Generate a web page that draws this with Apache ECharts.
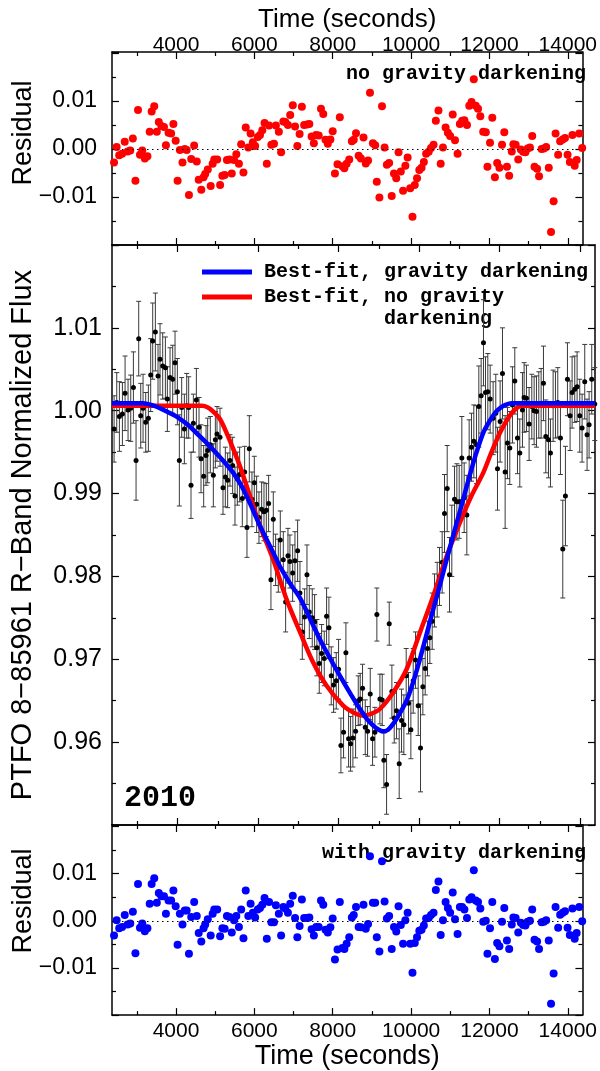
<!DOCTYPE html>
<html><head><meta charset="utf-8">
<script src="https://cdn.jsdelivr.net/npm/echarts@6/dist/echarts.min.js"></script>
<style>html,body{margin:0;padding:0;background:#fff}#c{width:600px;height:1071px}</style>
</head><body><div id="c"></div>
<script>
// ---- Data ----
const time = [
2419,2485,2551,2626,2692,2766,2833,2899,2965,3031,
3081,3139,3205,3271,3329,3379,3445,3511,3561,3627,
3694,3743,3810,3876,3934,3992,4041,4099,4166,4224,
4273,4331,4389,4464,4530,4580,4646,4704,4745,4811,
4886,4936,4977,5052,5126,5184,5242,5300,5366,5424,
5482,5540,5606,5664,5722,5780,5846,5904,5962,6020,
6087,6145,6203,6260,6318,6376,6434,6501,6550,6625,
6683,6741,6790,6857,6915,6981,7039,7097,7155,7213,
7271,7345,7403,7461,7519,7577,7643,7701,7759,7817,
7875,7941,7999,8057,8123,8181,8248,8297,8355,8422,
8488,8537,8595,8662,8720,8786,8844,8902,8951,9026,
9084,9125,9192,9258,9324,9382,9440,9506,9564,9622,
9680,9738,9796,9854,9912,9978,10036,10094,10152,10210,
10268,10326,10384,10450,10508,10574,10632,10699,10756,10814,
10881,10939,10997,11063,11121,11187,11245,11303,11361,11427,
11485,11543,11601,11651,11709,11767,11841,11907,11949,12015,
12073,12139,12197,12255,12321,12379,12446,12504,12570,12611,
12669,12735,12802,12860,12918,12976,13034,13092,13150,13216,
13266,13332,13390,13448,13514,13572,13638,13688,13754,13804,
13870,13928,13994,14052,14118,14176,14226,14292,14367];

const flux = [
0.9978,1.0010,0.9993,0.9996,1.0021,1.0001,1.0003,1.0028,0.9940,1.0087,
0.9994,1.0003,0.9986,0.9991,1.0043,1.0084,1.0095,1.0042,1.0062,1.0054,
1.0052,1.0014,1.0040,1.0038,1.0058,1.0023,0.9940,1.0004,0.9978,1.0006,
1.0004,0.9910,0.9985,1.0013,0.9980,0.9942,0.9921,0.9946,0.9952,0.9959,
0.9922,0.9965,0.9972,0.9968,0.9907,0.9920,0.9916,0.9940,0.9934,0.9897,
0.9918,0.9923,0.9894,0.9926,0.9859,0.9954,0.9893,0.9913,0.9887,0.9871,
0.9881,0.9878,0.9880,0.9888,0.9796,0.9869,0.9820,0.9813,0.9844,0.9820,
0.9769,0.9825,0.9818,0.9804,0.9819,0.9831,0.9780,0.9733,0.9751,0.9802,
0.9757,0.9750,0.9745,0.9714,0.9695,0.9707,0.9701,0.9752,0.9738,0.9680,
0.9669,0.9674,0.9688,0.9596,0.9612,0.9708,0.9604,0.9598,0.9605,0.9613,
0.9650,0.9652,0.9665,0.9618,0.9613,0.9658,0.9604,0.9612,0.9754,0.9652,
0.9651,0.9578,0.9549,0.9743,0.9661,0.9629,0.9638,0.9574,0.9626,0.9621,
0.9680,0.9647,0.9615,0.9674,0.9699,0.9644,0.9593,0.9667,0.9689,0.9713,
0.9726,0.9746,0.9771,0.9784,0.9800,0.9817,0.9876,0.9906,0.9802,0.9843,
0.9893,0.9890,0.9890,0.9943,0.9895,0.9874,0.9943,0.9956,0.9963,0.9959,
1.0005,1.0018,1.0082,1.0022,1.0023,1.0014,0.9991,0.9997,0.9930,0.9987,
1.0045,0.9926,0.9961,0.9955,1.0007,1.0036,0.9967,0.9949,1.0001,1.0016,
1.0015,0.9984,1.0005,1.0000,0.9999,1.0007,1.0009,1.0033,0.9969,0.9965,
0.9949,1.0006,1.0007,1.0010,0.9967,0.9833,0.9897,1.0038,0.9994,1.0022,
1.0026,1.0029,0.9994,0.9979,1.0035,0.9971,0.9983,1.0038,1.0008];

const fluxErr = [
0.0040,0.0036,0.0042,0.0038,0.0045,0.0037,0.0040,0.0043,0.0048,0.0045,
0.0039,0.0041,0.0036,0.0040,0.0044,0.0046,0.0047,0.0038,0.0043,0.0040,
0.0037,0.0039,0.0036,0.0041,0.0038,0.0040,0.0055,0.0036,0.0042,0.0039,
0.0037,0.0040,0.0035,0.0038,0.0036,0.0041,0.0037,0.0036,0.0039,0.0034,
0.0038,0.0034,0.0033,0.0035,0.0032,0.0036,0.0033,0.0031,0.0034,0.0035,
0.0032,0.0033,0.0034,0.0031,0.0036,0.0040,0.0033,0.0032,0.0034,0.0031,
0.0033,0.0035,0.0032,0.0034,0.0036,0.0033,0.0031,0.0032,0.0035,0.0034,
0.0036,0.0033,0.0032,0.0034,0.0035,0.0037,0.0038,0.0033,0.0034,0.0036,
0.0032,0.0035,0.0033,0.0034,0.0036,0.0035,0.0033,0.0034,0.0037,0.0035,
0.0033,0.0034,0.0036,0.0033,0.0031,0.0036,0.0034,0.0033,0.0035,0.0032,
0.0030,0.0031,0.0029,0.0033,0.0030,0.0031,0.0032,0.0030,0.0032,0.0030,
0.0031,0.0033,0.0036,0.0026,0.0032,0.0030,0.0034,0.0042,0.0038,0.0036,
0.0033,0.0037,0.0035,0.0039,0.0034,0.0036,0.0053,0.0034,0.0032,0.0033,
0.0031,0.0034,0.0032,0.0033,0.0035,0.0037,0.0047,0.0052,0.0045,0.0043,
0.0040,0.0046,0.0044,0.0050,0.0042,0.0048,0.0046,0.0041,0.0044,0.0047,
0.0049,0.0045,0.0052,0.0043,0.0046,0.0041,0.0044,0.0047,0.0050,0.0049,
0.0055,0.0068,0.0043,0.0044,0.0046,0.0040,0.0043,0.0041,0.0045,0.0042,
0.0040,0.0044,0.0039,0.0041,0.0043,0.0040,0.0042,0.0045,0.0044,0.0046,
0.0041,0.0043,0.0040,0.0042,0.0044,0.0059,0.0060,0.0044,0.0042,0.0043,
0.0040,0.0042,0.0044,0.0041,0.0045,0.0043,0.0040,0.0042,0.0044];

// residuals, model without gravity darkening (top panel)
const residNoGD = [
-0.0028,0.0004,-0.0013,-0.0010,0.0015,-0.0005,-0.0003,0.0022,-0.0066,0.0081,
-0.0012,-0.0003,-0.0020,-0.0015,0.0036,0.0078,0.0089,0.0036,0.0056,0.0048,
0.0046,0.0008,0.0034,0.0032,0.0052,0.0017,-0.0066,-0.0002,-0.0028,0.0000,
-0.0002,-0.0096,-0.0021,0.0007,-0.0026,-0.0064,-0.0085,-0.0059,-0.0052,-0.0043,
-0.0077,-0.0031,-0.0022,-0.0022,-0.0075,-0.0056,-0.0054,-0.0023,-0.0022,-0.0051,
-0.0023,-0.0011,-0.0031,0.0010,-0.0049,0.0045,0.0003,0.0032,0.0014,0.0006,
0.0025,0.0029,0.0039,0.0054,-0.0031,0.0049,0.0009,0.0011,0.0049,0.0036,
-0.0007,0.0057,0.0056,0.0050,0.0071,0.0091,0.0047,0.0006,0.0031,0.0088,
0.0050,0.0051,0.0052,0.0026,0.0012,0.0029,0.0028,0.0084,0.0073,0.0019,
0.0011,0.0020,0.0037,-0.0051,-0.0032,0.0066,-0.0036,-0.0040,-0.0031,-0.0022,
0.0016,0.0019,0.0033,-0.0014,-0.0020,0.0024,-0.0030,-0.0024,0.0117,0.0012,
0.0008,-0.0068,-0.0101,0.0089,0.0003,-0.0033,-0.0029,-0.0098,-0.0051,-0.0061,
-0.0007,-0.0047,-0.0087,-0.0035,-0.0018,-0.0082,-0.0141,-0.0075,-0.0061,-0.0044,
-0.0039,-0.0027,-0.0010,-0.0006,0.0002,0.0009,0.0059,0.0080,-0.0031,0.0003,
0.0045,0.0034,0.0027,0.0072,0.0018,-0.0010,0.0052,0.0059,0.0060,0.0050,
0.0090,0.0098,0.0145,0.0090,0.0084,0.0068,0.0036,0.0035,-0.0037,0.0013,
0.0065,-0.0059,-0.0029,-0.0039,0.0009,0.0035,-0.0037,-0.0056,-0.0005,0.0010,
0.0009,-0.0022,-0.0001,-0.0006,-0.0007,0.0001,0.0003,0.0027,-0.0037,-0.0041,
-0.0057,0.0000,0.0001,0.0004,-0.0039,-0.0173,-0.0109,0.0032,-0.0012,0.0016,
0.0020,0.0023,-0.0012,-0.0027,0.0029,-0.0035,-0.0023,0.0032,0.0002];

// residuals, model with gravity darkening (bottom panel)
const residGD = [
-0.0031,0.0001,-0.0016,-0.0013,0.0012,-0.0008,-0.0006,0.0019,-0.0069,0.0078,
-0.0015,-0.0006,-0.0022,-0.0016,0.0036,0.0078,0.0090,0.0038,0.0059,0.0052,
0.0052,0.0015,0.0043,0.0043,0.0064,0.0031,-0.0051,0.0015,-0.0008,0.0022,
0.0022,-0.0070,0.0008,0.0040,0.0010,-0.0026,-0.0044,-0.0016,-0.0008,0.0003,
-0.0031,0.0015,0.0024,0.0024,-0.0033,-0.0016,-0.0017,0.0010,0.0008,-0.0025,
0.0001,0.0010,-0.0013,0.0024,-0.0037,0.0064,0.0010,0.0036,0.0017,0.0007,
0.0024,0.0027,0.0034,0.0048,-0.0038,0.0040,-0.0003,-0.0003,0.0033,0.0015,
-0.0031,0.0029,0.0026,0.0017,0.0036,0.0053,0.0006,-0.0035,-0.0011,0.0045,
0.0006,0.0006,0.0007,-0.0018,-0.0031,-0.0013,-0.0013,0.0043,0.0034,-0.0019,
-0.0025,-0.0014,0.0005,-0.0082,-0.0061,0.0040,-0.0058,-0.0060,-0.0049,-0.0035,
0.0007,0.0012,0.0029,-0.0013,-0.0014,0.0034,-0.0017,-0.0007,0.0137,0.0038,
0.0038,-0.0035,-0.0065,0.0126,0.0041,0.0005,0.0010,-0.0060,-0.0013,-0.0023,
0.0031,-0.0009,-0.0049,0.0001,0.0017,-0.0049,-0.0110,-0.0047,-0.0035,-0.0021,
-0.0019,-0.0010,0.0005,0.0006,0.0012,0.0017,0.0065,0.0083,-0.0030,0.0001,
0.0040,0.0027,0.0017,0.0060,0.0003,-0.0028,0.0029,0.0029,0.0024,0.0006,
0.0045,0.0050,0.0107,0.0043,0.0040,0.0026,-0.0002,0.0000,-0.0070,-0.0016,
0.0040,-0.0081,-0.0047,-0.0054,-0.0002,0.0027,-0.0042,-0.0060,-0.0008,0.0007,
0.0006,-0.0025,-0.0004,-0.0009,-0.0010,-0.0002,0.0000,0.0024,-0.0040,-0.0044,
-0.0060,-0.0003,-0.0002,0.0001,-0.0042,-0.0176,-0.0112,0.0029,-0.0015,0.0013,
0.0017,0.0020,-0.0015,-0.0030,0.0026,-0.0038,-0.0026,0.0029,-0.0001];

// best-fit model curves
const modelGDTime = [2367,2800,3140,3400,3727,4000,4250,4554,4800,5050,5381,5600,5800,6045,6300,6542,6800,7039,7300,7536,7800,8033,8300,8530,8700,8860,9000,9108,9230,9356,9500,9690,9850,10020,10180,10350,10520,10683,10830,10972,11080,11180,11300,11429,11600,11759,11900,12007,12150,12298,14373];
const modelGDFlux = [1.0009,1.0009,1.0009,1.0006,0.9999,0.9992,0.9983,0.9969,0.9957,0.9944,0.9925,0.9908,0.9888,0.9861,0.9836,0.9812,0.9791,0.9774,0.9748,0.9724,0.9700,0.9680,0.9658,0.9640,0.9628,0.9620,0.9615,0.9613,0.9615,0.9622,0.9633,0.9650,0.9672,0.9700,0.9729,0.9760,0.9790,0.9820,0.9846,0.9871,0.9890,0.9908,0.9929,0.9950,0.9974,0.9988,0.9998,1.0003,1.0007,1.0009,1.0009];
const modelNoGDTime = [2367,4600,4750,4885,5050,5217,5380,5548,5796,6045,6375,6708,7039,7369,7702,8114,8400,8612,8800,9026,9356,9690,10020,10350,10683,11014,11300,11594,11800,12007,12200,12338,12450,12546,14373];
const modelNoGDFlux = [1.0006,1.0006,1.0004,0.9999,0.9990,0.9973,0.9954,0.9933,0.9897,0.9861,0.9820,0.9772,0.9733,0.9696,0.9668,0.9644,0.9635,0.9632,0.9634,0.9640,0.9660,0.9688,0.9732,0.9776,0.9824,0.9865,0.9897,0.9925,0.9950,0.9973,0.9990,0.9999,1.0004,1.0006,1.0006];

const timeMajorTicks = [4000,6000,8000,10000,12000,14000];
const timeMinorTicks = [3000,5000,7000,9000,11000,13000];
const fluxTickLabels = [0.96,0.97,0.98,0.99,1.00,1.01];
const residTickLabels = [-0.01,0,0.01];

// ---- Chart ----
const X_MIN = 2367, X_MAX = 14373;
const SANS = "'Liberation Sans', Arial, Helvetica, sans-serif";
const MONO = "'Liberation Mono', 'Courier New', monospace";
const chart = echarts.init(document.getElementById('c'), null, {renderer: 'canvas'});

function xAxisDef(grid, pos, ticks, len, showLine, labels, name) {
  const a = {
    type: 'value', gridIndex: grid, position: pos, min: X_MIN, max: X_MAX,
    axisLine: {show: showLine, onZero: false, lineStyle: {color: '#000', width: 1.5}},
    axisTick: {show: true, inside: true, length: len, customValues: ticks, lineStyle: {color: '#000', width: 1.2}},
    axisLabel: {show: !!labels, customValues: timeMajorTicks, fontSize: 21, fontFamily: SANS, color: '#000',
      margin: pos === 'top' ? -4 : 6, formatter: v => String(v)},
    splitLine: {show: false}
  };
  if (name) {
    a.name = name; a.nameLocation = 'middle';
    a.nameGap = pos === 'top' ? 19 : 23;
    a.nameTextStyle = {fontSize: pos === 'top' ? 26 : 27, fontFamily: SANS, color: '#000'};
  }
  return a;
}
function fmtResid(v) {
  if (Math.abs(v) < 1e-9) return '0.00';
  return (v < 0 ? '\u2212' : '') + Math.abs(v).toFixed(2);
}
function yAxisDef(grid, pos, min, max, labels, margin, fontSize, fmt) {
  return {
    type: 'value', gridIndex: grid, position: pos, min: min, max: max, interval: 0.01,
    axisLine: {show: true, onZero: false, lineStyle: {color: '#000', width: 1.5}},
    axisTick: {show: true, inside: true, length: 7, lineStyle: {color: '#000', width: 1.2}},
    minorTick: {show: true, splitNumber: 2, length: 4, lineStyle: {color: '#000', width: 1.2}},
    axisLabel: labels ? {show: true, customValues: labels, fontSize: fontSize, fontFamily: SANS, color: '#000', margin: margin, formatter: fmt}
                      : {show: false},
    splitLine: {show: false}, minorSplitLine: {show: false}
  };
}

const zeroLine = {
  silent: true, symbol: 'none', label: {show: false},
  lineStyle: {color: '#000', type: [1.5, 3.5], width: 1.2},
  data: [{yAxis: 0}]
};

const option = {
  backgroundColor: '#fff',
  animation: false,
  grid: [
    {left: 112, width: 483, top: 52, height: 193},
    {left: 112, width: 483, top: 245, height: 580},
    {left: 112, width: 483, top: 825, height: 194}
  ],
  xAxis: [
    xAxisDef(0, 'bottom', timeMajorTicks, 7, true, false),
    xAxisDef(0, 'top', timeMajorTicks, 7, true, true, 'Time (seconds)'),
    xAxisDef(1, 'bottom', timeMajorTicks, 7, true, false),
    xAxisDef(1, 'top', timeMajorTicks, 7, true, false),
    xAxisDef(2, 'bottom', timeMajorTicks, 7, true, true, 'Time (seconds)'),
    xAxisDef(2, 'top', timeMajorTicks, 7, true, false),
    xAxisDef(0, 'bottom', timeMinorTicks, 4, false, false),
    xAxisDef(0, 'top', timeMinorTicks, 4, false, false),
    xAxisDef(1, 'bottom', timeMinorTicks, 4, false, false),
    xAxisDef(1, 'top', timeMinorTicks, 4, false, false),
    xAxisDef(2, 'bottom', timeMinorTicks, 4, false, false),
    xAxisDef(2, 'top', timeMinorTicks, 4, false, false)
  ],
  yAxis: [
    yAxisDef(0, 'left', -0.02, 0.0202, residTickLabels, 15, 23, fmtResid),
    yAxisDef(0, 'right', -0.02, 0.0202, null),
    yAxisDef(1, 'left', 0.95, 1.02, fluxTickLabels, 10, 25, v => v.toFixed(2)),
    yAxisDef(1, 'right', 0.95, 1.02, null),
    yAxisDef(2, 'left', -0.02, 0.0203, residTickLabels, 15, 23, fmtResid),
    yAxisDef(2, 'right', -0.02, 0.0203, null)
  ],
  series: [
    {
      name: 'Residual (no gravity darkening)', type: 'scatter', xAxisIndex: 0, yAxisIndex: 0,
      data: time.map((t, i) => [t, residNoGD[i]]), symbolSize: 8,
      itemStyle: {color: '#ff0000', opacity: 1}, markLine: zeroLine, z: 3
    },
    {
      name: 'Flux error', type: 'custom', xAxisIndex: 2, yAxisIndex: 2,
      data: time.map((t, i) => [t, flux[i], fluxErr[i]]),
      encode: {x: 0, y: 1}, z: 2, silent: true,
      renderItem: function (params, api) {
        const x = api.value(0), y = api.value(1), e = api.value(2);
        const p1 = api.coord([x, y + e]), p2 = api.coord([x, y - e]);
        const hw = 2.5, st = {stroke: '#3a3a3a', lineWidth: 1};
        return {type: 'group', children: [
          {type: 'line', shape: {x1: p1[0], y1: p1[1], x2: p2[0], y2: p2[1]}, style: st},
          {type: 'line', shape: {x1: p1[0] - hw, y1: p1[1], x2: p1[0] + hw, y2: p1[1]}, style: st},
          {type: 'line', shape: {x1: p2[0] - hw, y1: p2[1], x2: p2[0] + hw, y2: p2[1]}, style: st}
        ]};
      }
    },
    {
      name: 'Flux', type: 'scatter', xAxisIndex: 2, yAxisIndex: 2,
      data: time.map((t, i) => [t, flux[i]]), symbolSize: 5,
      itemStyle: {color: '#000', opacity: 1}, z: 3
    },
    {
      name: 'Best-fit, no gravity darkening', type: 'line', xAxisIndex: 2, yAxisIndex: 2,
      data: modelNoGDTime.map((t, i) => [t, modelNoGDFlux[i]]),
      showSymbol: false, smooth: 0.3,
      lineStyle: {color: '#ff0000', width: 4.5}, z: 4
    },
    {
      name: 'Best-fit, gravity darkening', type: 'line', xAxisIndex: 2, yAxisIndex: 2,
      data: modelGDTime.map((t, i) => [t, modelGDFlux[i]]),
      showSymbol: false, smooth: 0.3,
      lineStyle: {color: '#0000ff', width: 4.5}, z: 5
    },
    {
      name: 'Residual (with gravity darkening)', type: 'scatter', xAxisIndex: 4, yAxisIndex: 4,
      data: time.map((t, i) => [t, residGD[i]]), symbolSize: 8,
      itemStyle: {color: '#0000ff', opacity: 1}, markLine: zeroLine, z: 3
    }
  ],
  graphic: [
    {type: 'text', x: 24, y: 133, rotation: Math.PI / 2,
      style: {text: 'Residual', fontSize: 27, fontFamily: SANS, fill: '#000', align: 'center', verticalAlign: 'middle', textAlign: 'center', textVerticalAlign: 'middle'}},
    {type: 'text', x: 23, y: 535, rotation: Math.PI / 2,
      style: {text: 'PTFO 8\u221285961 R\u2212Band Normalized Flux', fontSize: 29, fontFamily: SANS, fill: '#000', align: 'center', verticalAlign: 'middle', textAlign: 'center', textVerticalAlign: 'middle'}},
    {type: 'text', x: 24, y: 901, rotation: Math.PI / 2,
      style: {text: 'Residual', fontSize: 27, fontFamily: SANS, fill: '#000', align: 'center', verticalAlign: 'middle', textAlign: 'center', textVerticalAlign: 'middle'}},
    {type: 'text', x: 586, y: 74,
      style: {text: 'no gravity darkening', fontSize: 20, fontWeight: 'bold', fontFamily: MONO, fill: '#000', align: 'right', verticalAlign: 'middle', textAlign: 'right', textVerticalAlign: 'middle'}},
    {type: 'text', x: 586, y: 853,
      style: {text: 'with gravity darkening', fontSize: 20, fontWeight: 'bold', fontFamily: MONO, fill: '#000', align: 'right', verticalAlign: 'middle', textAlign: 'right', textVerticalAlign: 'middle'}},
    {type: 'text', x: 124, y: 798,
      style: {text: '2010', fontSize: 30, fontWeight: 'bold', fontFamily: MONO, fill: '#000', align: 'left', verticalAlign: 'middle', textAlign: 'left', textVerticalAlign: 'middle'}},
    {type: 'line', shape: {x1: 202, y1: 272, x2: 252, y2: 272}, style: {stroke: '#0000ff', lineWidth: 5}},
    {type: 'line', shape: {x1: 202, y1: 297, x2: 252, y2: 297}, style: {stroke: '#ff0000', lineWidth: 5}},
    {type: 'text', x: 264, y: 272,
      style: {text: 'Best-fit, gravity darkening', fontSize: 20, fontWeight: 'bold', fontFamily: MONO, fill: '#000', align: 'left', verticalAlign: 'middle', textAlign: 'left', textVerticalAlign: 'middle'}},
    {type: 'text', x: 264, y: 297,
      style: {text: 'Best-fit, no gravity', fontSize: 20, fontWeight: 'bold', fontFamily: MONO, fill: '#000', align: 'left', verticalAlign: 'middle', textAlign: 'left', textVerticalAlign: 'middle'}},
    {type: 'text', x: 384, y: 319,
      style: {text: 'darkening', fontSize: 20, fontWeight: 'bold', fontFamily: MONO, fill: '#000', align: 'left', verticalAlign: 'middle', textAlign: 'left', textVerticalAlign: 'middle'}}
  ]
};
chart.setOption(option);
</script>
</body></html>
